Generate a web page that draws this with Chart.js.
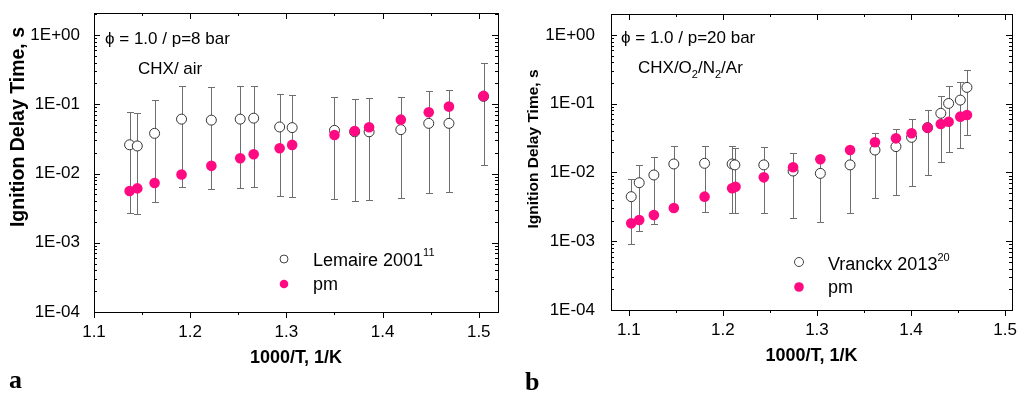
<!DOCTYPE html>
<html>
<head>
<meta charset="utf-8">
<script src="https://cdn.jsdelivr.net/npm/chart.js@4.4.1/dist/chart.umd.min.js"></script>
<style>
  html, body { margin: 0; padding: 0; background: #fff; }
  #wrap { position: relative; width: 1018px; height: 394px; }
  .box { position: absolute; top: 0; width: 509px; height: 394px; }
  #boxA { left: 0; }
  #boxB { left: 509px; }
</style>
</head>
<body>
<div id="wrap">
  <div class="box" id="boxA"><canvas id="chartA" width="509" height="394"></canvas></div>
  <div class="box" id="boxB"><canvas id="chartB" width="509" height="394"></canvas></div>
</div>
<script>
// axis ticks
const xTicks = [1.1, 1.2, 1.3, 1.4, 1.5];
const yTicks = [1e-4, 1e-3, 1e-2, 1e-1, 1];
const yTickLabels = ['1E-04', '1E-03', '1E-02', '1E-01', '1E+00'];

// panel a: Lemaire 2001 (open) and pm (filled)
const lemaireX = [1.137, 1.145, 1.163, 1.191, 1.222, 1.252, 1.266, 1.293, 1.306, 1.350, 1.371, 1.386, 1.419, 1.448, 1.469, 1.505];
const lemaireY = [0.026, 0.025, 0.038, 0.061, 0.059, 0.061, 0.063, 0.047, 0.046, 0.042, 0.040, 0.040, 0.043, 0.053, 0.053, 0.13];
const lemaireHi = [0.078, 0.074, 0.115, 0.184, 0.176, 0.184, 0.184, 0.141, 0.138, 0.126, 0.12, 0.123, 0.129, 0.158, 0.16, 0.39];
const lemaireLo = [0.0027, 0.0026, 0.0039, 0.0063, 0.006, 0.0062, 0.0063, 0.0048, 0.0046, 0.0043, 0.004, 0.0041, 0.0044, 0.0053, 0.0054, 0.0133];
const pmAY = [0.0056, 0.0061, 0.0073, 0.0097, 0.0129, 0.0166, 0.019, 0.0232, 0.0259, 0.036, 0.0412, 0.0466, 0.060, 0.0766, 0.0925, 0.132];

// panel b: Vranckx 2013 (open) and pm (filled)
const vranckxX = [1.1025, 1.111, 1.1266, 1.1478, 1.1805, 1.2098, 1.2127, 1.2435, 1.2746, 1.3036, 1.3352, 1.3617, 1.384, 1.4006, 1.4176, 1.4317, 1.440, 1.4524, 1.4595];
const vranckxY = [0.00445, 0.0071, 0.0092, 0.0133, 0.0136, 0.0133, 0.0129, 0.0129, 0.0105, 0.0097, 0.0129, 0.0212, 0.0238, 0.0325, 0.0449, 0.0726, 0.101, 0.113, 0.173];
const vranckxHi = [0.008, 0.0129, 0.0166, 0.0243, 0.0243, 0.024, 0.023, 0.0233, 0.019, 0.017, 0.021, 0.038, 0.0425, 0.059, 0.081, 0.13, 0.181, 0.209, 0.31];
const vranckxLo = [0.0009, 0.0014, 0.0018, 0.003, 0.00266, 0.0026, 0.0026, 0.0026, 0.00215, 0.0019, 0.0026, 0.0043, 0.0047, 0.0064, 0.0091, 0.0144, 0.0199, 0.0225, 0.035];
const pmBX = [1.1025, 1.111, 1.1266, 1.1478, 1.1805, 1.2098, 1.2134, 1.2435, 1.2746, 1.3036, 1.3352, 1.3617, 1.384, 1.4006, 1.4176, 1.4317, 1.440, 1.4524, 1.4595];
const pmBY = [0.00182, 0.00204, 0.0024, 0.00305, 0.00445, 0.0059, 0.0062, 0.0085, 0.0119, 0.0156, 0.0212, 0.0275, 0.0314, 0.0372, 0.0449, 0.0507, 0.0548, 0.0649, 0.0686];

const PINK = '#ff0a82';
const SANS = '"Liberation Sans", Arial, sans-serif';

const toPoints = (xs, ys) => xs.map((v, i) => ({ x: v, y: ys[i] }));

// vertical error bars with caps, under the markers
const errorBars = {
    id: 'errorBars',
    beforeDatasetsDraw(chart) {
        const { ctx, scales: { x, y } } = chart;
        chart.data.datasets.forEach(ds => {
            if (!ds.errHi) return;
            ctx.save();
            ctx.strokeStyle = '#6e6e6e';
            ctx.lineWidth = 1;
            ctx.beginPath();
            ds.data.forEach((p, i) => {
                const px = Math.round(x.getPixelForValue(p.x)) + 0.5;
                const yh = Math.round(y.getPixelForValue(ds.errHi[i])) + 0.5;
                const yl = Math.round(y.getPixelForValue(ds.errLo[i])) + 0.5;
                ctx.moveTo(px, yh); ctx.lineTo(px, yl);
                ctx.moveTo(px - 3.5, yh); ctx.lineTo(px + 3.5, yh);
                ctx.moveTo(px - 3.5, yl); ctx.lineTo(px + 3.5, yl);
            });
            ctx.stroke();
            ctx.restore();
        });
    }
};

// box frame with inward ticks (bottom ones point outward)
const frame = {
    id: 'frame',
    afterDatasetsDraw(chart) {
        const { ctx, chartArea: a, scales: { x, y } } = chart;
        ctx.save();
        ctx.strokeStyle = '#000';
        ctx.lineWidth = 1;
        ctx.strokeRect(Math.round(a.left) + 0.5, Math.round(a.top) + 0.5, Math.round(a.right - a.left), Math.round(a.bottom - a.top));
        ctx.beginPath();
        for (let k = Math.ceil(x.min / 0.05 - 1e-6); k * 0.05 <= x.max + 1e-9; k++) {
            const px = Math.round(x.getPixelForValue(k * 0.05)) + 0.5;
            const len = k % 2 === 0 ? 6 : 3;
            ctx.moveTo(px, a.bottom); ctx.lineTo(px, a.bottom + len);
            ctx.moveTo(px, a.top); ctx.lineTo(px, a.top + len);
        }
        for (let e = -4; e <= 0; e++) {
            for (let m = 1; m <= 9; m++) {
                const v = m * Math.pow(10, e);
                if (v > y.max) break;
                const py = Math.round(y.getPixelForValue(v)) + 0.5;
                const len = m === 1 ? 6 : 3;
                ctx.moveTo(a.left, py); ctx.lineTo(a.left + len, py);
                ctx.moveTo(a.right, py); ctx.lineTo(a.right - len, py);
            }
        }
        ctx.stroke();
        ctx.restore();
    }
};

// text pieces: annotation, legend, y title and panel letter
function drawRich(ctx, x, y, segs) {
    segs.forEach(s => {
        ctx.font = s.f;
        ctx.fillText(s.t, x, y + (s.dy || 0));
        x += ctx.measureText(s.t).width;
    });
}

const decor = {
    id: 'decor',
    afterDraw(chart) {
        const d = chart.options.plugins.decor;
        const ctx = chart.ctx;
        ctx.save();
        ctx.fillStyle = '#000';
        ctx.textBaseline = 'alphabetic';
        ctx.textAlign = 'left';
        d.texts.forEach(t => drawRich(ctx, t.x, t.y, t.segs));

        // legend markers
        d.legend.forEach(l => {
            ctx.beginPath();
            ctx.arc(l.x, l.y, l.r, 0, Math.PI * 2);
            if (l.open) {
                ctx.fillStyle = '#fff'; ctx.fill();
                ctx.strokeStyle = '#444'; ctx.lineWidth = 1; ctx.stroke();
            } else {
                ctx.fillStyle = PINK; ctx.fill();
            }
            ctx.fillStyle = '#000';
            drawRich(ctx, l.tx, l.ty, l.segs);
        });

        // y axis title
        ctx.save();
        ctx.translate(d.yTitle.x, d.yTitle.y);
        ctx.rotate(-Math.PI / 2);
        ctx.textAlign = 'center';
        ctx.textBaseline = 'middle';
        ctx.font = d.yTitle.f;
        ctx.fillText('Ignition Delay Time, s', 0, 0);
        ctx.restore();

        ctx.font = 'bold 26px "Liberation Serif", serif';
        ctx.fillText(d.letter.t, d.letter.x, d.letter.y);
        ctx.restore();
    }
};

function makeChart(id, cfg) {
    return new Chart(document.getElementById(id), {
        type: 'scatter',
        data: {
            datasets: [
                {
                    label: cfg.refLabel,
                    data: toPoints(cfg.refX, cfg.refY),
                    errHi: cfg.refHi,
                    errLo: cfg.refLo,
                    pointStyle: 'circle',
                    pointRadius: 5,
                    pointBorderWidth: 1,
                    pointBorderColor: '#333',
                    pointBackgroundColor: '#fff',
                    order: 1
                },
                {
                    label: 'pm',
                    data: toPoints(cfg.pmX, cfg.pmY),
                    pointStyle: 'circle',
                    pointRadius: 5.3,
                    pointBorderWidth: 0,
                    pointBackgroundColor: PINK,
                    pointBorderColor: PINK,
                    order: 0
                }
            ]
        },
        options: {
            responsive: false,
            animation: false,
            devicePixelRatio: 1,
            layout: { padding: cfg.padding },
            plugins: {
                legend: { display: false },
                tooltip: { enabled: false },
                decor: cfg.decor
            },
            scales: {
                x: {
                    type: 'linear',
                    min: cfg.xMin,
                    max: cfg.xMax,
                    grid: { display: false },
                    border: { display: false },
                    afterBuildTicks: s => { s.ticks = xTicks.map(v => ({ value: v })); },
                    afterFit: s => { s.height = cfg.xHeight; s.paddingLeft = 0; s.paddingRight = 0; },
                    ticks: {
                        autoSkip: false,
                        maxRotation: 0,
                        padding: 2,
                        color: '#000',
                        font: { family: SANS, size: 17 },
                        callback: v => v.toFixed(1)
                    },
                    title: {
                        display: true,
                        text: '1000/T, 1/K',
                        color: '#000',
                        font: { family: SANS, size: 18, weight: 'bold' },
                        padding: { top: 0, bottom: cfg.xTitlePad }
                    }
                },
                y: {
                    type: 'logarithmic',
                    min: 1e-4,
                    max: cfg.yMax,
                    grid: { display: false },
                    border: { display: false },
                    afterBuildTicks: s => { s.ticks = yTicks.map(v => ({ value: v })); },
                    afterFit: s => { s.width = cfg.yWidth; s.paddingTop = 0; s.paddingBottom = 0; },
                    ticks: {
                        autoSkip: false,
                        padding: cfg.yTickPad,
                        color: '#000',
                        font: { family: SANS, size: 17 },
                        callback: (v, i) => yTickLabels[i]
                    }
                }
            }
        },
        plugins: [errorBars, frame, decor]
    });
}

const F17 = '17px ' + SANS;
const F18 = '18px ' + SANS;
const F11 = '11px ' + SANS;

makeChart('chartA', {
    refLabel: 'Lemaire 2001',
    refX: lemaireX, refY: lemaireY, refHi: lemaireHi, refLo: lemaireLo,
    pmX: lemaireX, pmY: pmAY,
    xMin: 1.1, xMax: 1.52, yMax: 2.08,
    padding: { top: 13, right: 11, left: 0, bottom: 0 },
    xHeight: 82, yWidth: 94, yTickPad: 6, xTitlePad: 25,
    decor: {
        texts: [
            { x: 105, y: 44, segs: [{ t: '\u03d5 = 1.0 / p=8 bar', f: F17 }] },
            { x: 138, y: 74, segs: [{ t: 'CHX/ air', f: F17 }] }
        ],
        legend: [
            { x: 284, y: 259, r: 4, open: true, tx: 313, ty: 266, segs: [{ t: 'Lemaire 2001', f: F18 }, { t: '11', f: F11, dy: -10 }] },
            { x: 284, y: 284, r: 4.3, open: false, tx: 313, ty: 290, segs: [{ t: 'pm', f: F18 }] }
        ],
        yTitle: { x: 19, y: 127, f: 'bold 19.5px ' + SANS },
        letter: { t: 'a', x: 9, y: 388 }
    }
});

makeChart('chartB', {
    refLabel: 'Vranckx 2013',
    refX: vranckxX, refY: vranckxY, refHi: vranckxHi, refLo: vranckxLo,
    pmX: pmBX, pmY: pmBY,
    xMin: 1.081, xMax: 1.5074, yMax: 2.02,
    padding: { top: 14, right: 6, left: 0, bottom: 0 },
    xHeight: 84, yWidth: 102, yTickPad: 8, xTitlePad: 27,
    decor: {
        texts: [
            { x: 112, y: 43, segs: [{ t: '\u03d5 = 1.0 / p=20 bar', f: F17 }] },
            { x: 129, y: 73, segs: [
                { t: 'CHX/O', f: F17 }, { t: '2', f: F11, dy: 5 },
                { t: '/N', f: F17 }, { t: '2', f: F11, dy: 5 },
                { t: '/Ar', f: F17 }
            ] }
        ],
        legend: [
            { x: 290, y: 262, r: 4.5, open: true, tx: 319, ty: 270, segs: [{ t: 'Vranckx 2013', f: F18 }, { t: '20', f: F11, dy: -9 }] },
            { x: 290, y: 287, r: 4.8, open: false, tx: 319, ty: 293, segs: [{ t: 'pm', f: F18 }] }
        ],
        yTitle: { x: 25, y: 149, f: 'bold 15.5px ' + SANS },
        letter: { t: 'b', x: 16, y: 390 }
    }
});
</script>
</body>
</html>
